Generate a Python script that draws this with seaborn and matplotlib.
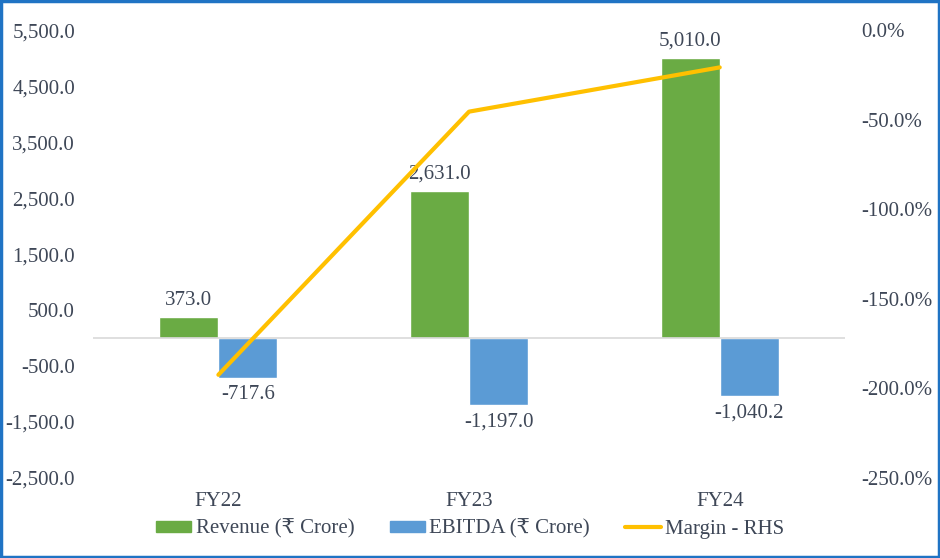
import numpy as np
import pandas as pd
import matplotlib.pyplot as plt
import matplotlib.patches as mpatches
import matplotlib.lines as mlines
from matplotlib.ticker import FuncFormatter
import seaborn as sns

# --- Data ---
years = ["FY22", "FY23", "FY24"]
revenue = [373.0, 2631.0, 5010.0]
ebitda = [-717.6, -1197.0, -1040.2]
margin = [-192.4, -45.5, -20.8]  # EBITDA / Revenue, %

green = "#6aab44"
blue = "#5b9bd5"
yellow = "#ffc000"
txt = "#3e4757"

sns.set_theme(style="white")
plt.rcParams["font.family"] = ["Liberation Serif", "DejaVu Serif"]

df = pd.DataFrame({
    "year": years * 2,
    "series": ["Revenue (₹ Crore)"] * 3 + ["EBITDA (₹ Crore)"] * 3,
    "value": revenue + ebitda,
})

fig = plt.figure(figsize=(9.4, 5.58), dpi=100)
ax = fig.add_axes([0.099, 0.1434, 0.8, 0.8026])

sns.barplot(data=df, x="year", y="value", hue="series",
            palette=[green, blue], width=0.47, saturation=1,
            ax=ax, legend=False)

ax.set_ylim(-2500, 5500)
ax.set_yticks(np.arange(-2500, 5501, 1000))
ax.yaxis.set_major_formatter(FuncFormatter(lambda v, p: f"{v:,.1f}"))
ax.axhline(0, color="#d9d9d9", lw=1.2, zorder=1)
ax.set_xlabel("")
ax.set_ylabel("")
ax.tick_params(axis="y", length=0, pad=13, labelsize=15, labelcolor=txt)
ax.tick_params(axis="x", length=0, pad=10, labelsize=15, labelcolor=txt)
for s in ax.spines.values():
    s.set_visible(False)

# data labels
for i, cont in enumerate(ax.containers):
    for bar, v in zip(cont, revenue if i == 0 else ebitda):
        x = bar.get_x() + bar.get_width() / 2
        if v >= 0:
            ax.text(x, v + 130, f"{v:,.1f}", ha="center", va="bottom",
                    fontsize=15, color=txt)
        else:
            ax.text(x, v - 130, f"{v:,.1f}", ha="center", va="top",
                    fontsize=15, color=txt)

# --- Margin on right axis ---
ax2 = ax.twinx()
sns.lineplot(x=np.arange(len(years)), y=margin, color=yellow, lw=3,
             ax=ax2, legend=False)
ax2.set_ylim(-250, 0)
ax2.set_yticks(np.arange(-250, 1, 50))
ax2.yaxis.set_major_formatter(FuncFormatter(lambda v, p: f"{v:.1f}%"))
ax2.tick_params(axis="y", length=0, pad=12, labelsize=15, labelcolor=txt)
ax2.grid(False)
for s in ax2.spines.values():
    s.set_visible(False)
ax.set_xlim(-0.5, 2.5)

# --- Legend ---
handles = [
    mpatches.Patch(color=green, label="Revenue (₹ Crore)"),
    mpatches.Patch(color=blue, label="EBITDA (₹ Crore)"),
    mlines.Line2D([], [], color=yellow, lw=3, label="Margin - RHS"),
]
fig.legend(handles=handles, loc="center", bbox_to_anchor=(0.5, 0.052),
           ncol=3, frameon=False, fontsize=15, labelcolor=txt,
           handlelength=1.7, handleheight=0.45, handletextpad=0.2,
           columnspacing=1.7)

# outer border
fig.patches.append(mpatches.Rectangle((0.001, 0.002), 0.998, 0.996,
                                      transform=fig.transFigure, fill=False,
                                      edgecolor="#1f73c4", lw=2.5))

fig.savefig("out.png", dpi=100)
